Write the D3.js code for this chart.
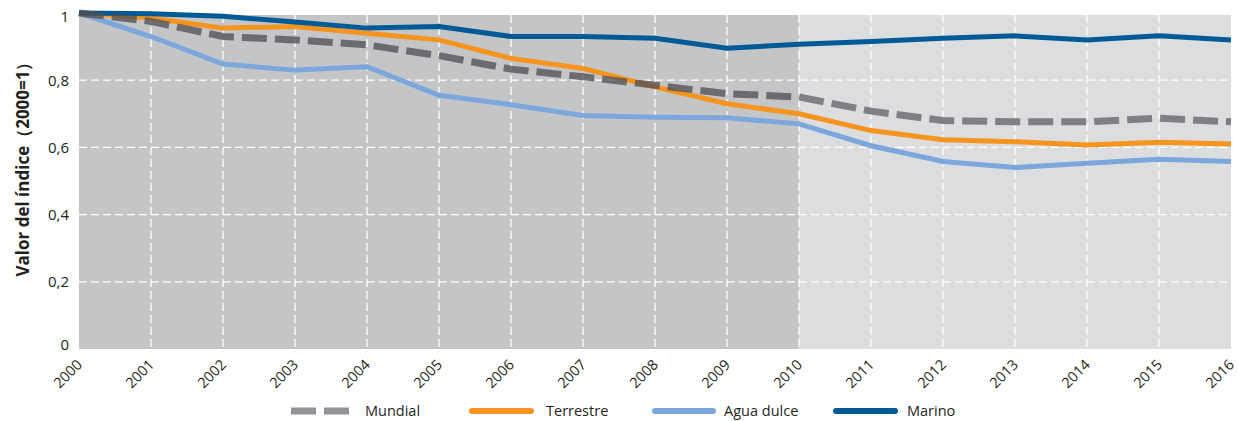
<!DOCTYPE html>
<html><head><meta charset="utf-8">
<script src="https://cdn.jsdelivr.net/npm/d3@7"></script>
<style>body{margin:0;background:#fff}svg{display:block}text{font-family:"Open Sans","Noto Sans",sans-serif;fill:#231f20}</style>
</head><body><svg id="c" width="1239" height="421"></svg>
<script>
const years = [2000,2001,2002,2003,2004,2005,2006,2007,2008,2009,2010,2011,2012,2013,2014,2015,2016];
const mundial   = [1.0,0.975,0.93,0.92,0.905,0.873,0.833,0.81,0.785,0.76,0.75,0.708,0.68,0.676,0.676,0.687,0.676];
const terrestre = [1.0,0.985,0.955,0.96,0.94,0.92,0.865,0.835,0.78,0.73,0.70,0.65,0.623,0.617,0.607,0.615,0.61];
const aguaDulce = [1.0,0.93,0.848,0.83,0.84,0.755,0.727,0.695,0.69,0.688,0.67,0.605,0.558,0.54,0.553,0.565,0.558];
const marino    = [1.0,0.998,0.99,0.973,0.955,0.96,0.93,0.93,0.925,0.895,0.907,0.915,0.925,0.932,0.92,0.932,0.92];
const yTicks = [0,0.2,0.4,0.6,0.8,1];
const seriesNames = ["Mundial","Terrestre","Agua dulce","Marino"];

const svg = d3.select("#c");
const x = d3.scaleLinear().domain([2000,2016]).range([79,1231]);
const y = d3.scaleLinear().domain([0,1]).range([349,13]);
const split = 2010;

// backgrounds
svg.append("rect").attr("x",x(2000)).attr("y",y(1)+2).attr("width",x(split)-x(2000)).attr("height",y(0)-y(1)-2).attr("fill","#c4c5c7");
svg.append("rect").attr("x",x(split)).attr("y",y(1)+2).attr("width",x(2016)-x(split)).attr("height",y(0)-y(1)-2).attr("fill","#dcdddf");

// grid
const g = svg.append("g");
g.selectAll(".vg").data(years.slice(1,-1)).join("line")
  .attr("x1",d=>x(d)).attr("x2",d=>x(d)).attr("y1",y(1)+2).attr("y2",y(0))
  .attr("stroke","#fff").attr("stroke-width",1.3).attr("stroke-dasharray","8,4");
g.selectAll(".hg").data(yTicks.filter(d=>d>0&&d<1)).join("line")
  .attr("x1",x(2000)).attr("x2",x(2016)).attr("y1",d=>y(d)).attr("y2",d=>y(d))
  .attr("stroke","#fff").attr("stroke-width",1.3).attr("stroke-dasharray","8,4");

// axes
const yAxis = d3.axisLeft(y).tickValues(yTicks).tickSize(0).tickPadding(10)
  .tickFormat(d=> d===0||d===1 ? String(d) : d3.format(".1f")(d).replace(".",","));
const ya = svg.append("g").attr("transform",`translate(${x(2000)},0)`).call(yAxis);
ya.select(".domain").remove();
ya.selectAll("text").style("font-size","15px").attr("fill","#231f20").style("font-family","'Open Sans',sans-serif");
ya.selectAll(".tick").filter(d=>d===1).select("text").attr("dy","0.55em");
ya.selectAll(".tick").filter(d=>d===0).select("text").attr("dy","0.05em");

const xAxis = d3.axisBottom(x).tickValues(years).tickSize(0).tickFormat(d3.format("d"));
const xa = svg.append("g").attr("transform",`translate(0,${y(0)})`).call(xAxis);
xa.select(".domain").remove();
xa.selectAll("text").style("font-size","14.5px").attr("fill","#231f20").style("font-family","'Open Sans',sans-serif")
  .attr("text-anchor","end").attr("transform","translate(0,13) rotate(-45)").attr("dy","0.35em").attr("y",0).attr("x",0);

svg.append("text").attr("transform",`translate(29,165) rotate(-90)`)
  .attr("text-anchor","middle").style("font-size","17px").style("font-weight","bold")
  .text("Valor del índice（2000=1）");

// lines
const line = d3.line().x((d,i)=>x(years[i])).y(d=>y(d));
const defs = svg.append("defs");
defs.append("clipPath").attr("id","cl").append("rect").attr("x",0).attr("y",0).attr("width",x(split)).attr("height",421);
defs.append("clipPath").attr("id","cr").append("rect").attr("x",x(split)).attr("y",0).attr("width",1239-x(split)).attr("height",421);

svg.append("path").datum(aguaDulce).attr("d",line).attr("fill","none").attr("stroke","#7ba7dc").attr("stroke-width",5);
svg.append("path").datum(terrestre).attr("d",line).attr("fill","none").attr("stroke","#f7941d").attr("stroke-width",5);
svg.append("path").datum(marino).attr("d",line).attr("fill","none").attr("stroke","#005a97").attr("stroke-width",5);
svg.append("path").datum(mundial).attr("d",line).attr("fill","none").attr("stroke","#4d4e52").attr("stroke-opacity",0.75)
  .attr("stroke-width",7).attr("stroke-dasharray","25,8").attr("clip-path","url(#cl)");
svg.append("path").datum(mundial).attr("d",line).attr("fill","none").attr("stroke","#7f8083")
  .attr("stroke-width",7).attr("stroke-dasharray","25,8").attr("clip-path","url(#cr)");

// legend
const legend = [
  {name:seriesNames[0], x0:291, x1:349, tx:365, color:"#939497", dash:"25,8", cap:"butt", w:7},
  {name:seriesNames[1], x0:472, x1:531, tx:546, color:"#f7941d", dash:null, cap:"round", w:6},
  {name:seriesNames[2], x0:655, x1:713, tx:724, color:"#7ba7dc", dash:null, cap:"round", w:6},
  {name:seriesNames[3], x0:836, x1:895, tx:907, color:"#005a97", dash:null, cap:"round", w:6}
];
const lg = svg.append("g");
legend.forEach(l=>{
  lg.append("line").attr("x1",l.x0).attr("x2",l.x1).attr("y1",411).attr("y2",411)
    .attr("stroke",l.color).attr("stroke-width",l.w).attr("stroke-linecap",l.cap).attr("stroke-dasharray",l.dash);
  lg.append("text").attr("x",l.tx).attr("y",416).style("font-size","14.5px").text(l.name);
});
</script></body></html>
